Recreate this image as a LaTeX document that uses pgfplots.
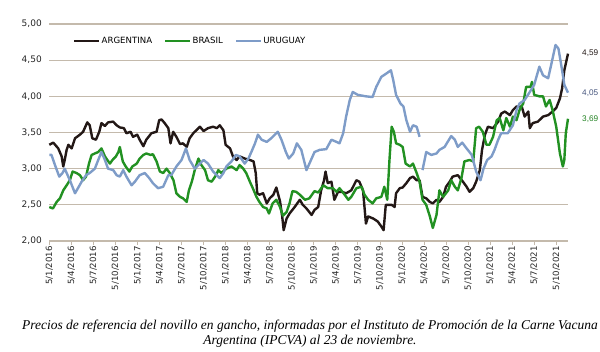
\documentclass[border=0pt]{standalone}
\usepackage{pgfplots}
\pgfplotsset{compat=1.18}
\usepackage{fontspec}
\setmainfont{DejaVu Sans}
\newfontfamily\capfont{Liberation Serif}
\newfontfamily\endfont{Liberation Sans}
\definecolor{argc}{RGB}{35,24,22}
\definecolor{brac}{RGB}{34,145,34}
\definecolor{uruc}{RGB}{126,156,200}
\definecolor{gridc}{RGB}{196,186,172}
\definecolor{lab405}{RGB}{70,85,125}
\definecolor{lab369}{RGB}{34,130,34}
\begin{document}
\begin{tikzpicture}
\path[use as bounding box] (-49.3pt,-111pt) rectangle (550.7pt,241pt);
\begin{axis}[
  at={(0pt,0pt)}, anchor=south west,
  scale only axis, width=518.7pt, height=217pt,
  xmin=0, xmax=70.6, ymin=2, ymax=5,
  clip=false,
  unbounded coords=jump,
  axis lines=left,
  axis line style={-},
  y axis line style={draw=none},
  x axis line style={draw=gridc, line width=1pt},
  ytick={2,2.5,...,5},
  ytick style={draw=none},
  xtick={0,3,...,69},
  xticklabels={5/1/2016,5/4/2016,5/7/2016,5/10/2016,5/1/2017,5/4/2017,5/7/2017,5/10/2017,5/1/2018,5/4/2018,5/7/2018,5/10/2018,5/1/2019,5/4/2019,5/7/2019,5/10/2019,5/1/2020,5/4/2020,5/7/2020,5/10/2020,5/1/2021,5/4/2021,5/7/2021,5/10/2021},
  xtick style={draw=gridc, line width=0.8pt},
  tick align=outside, major tick length=4pt,
  xticklabel style={rotate=90, anchor=east, font=\fontsize{8.6}{10}\selectfont, text=black!85, inner sep=1pt},
  yticklabel style={font=\fontsize{9}{10}\selectfont, text=black!85},
  /pgf/number format/.cd, fixed, fixed zerofill, precision=2, use comma, assume math mode=true,
  /pgfplots/.cd,
  ymajorgrids, grid style={gridc, line width=1.1pt},
  legend style={at={(rel axis cs:0.0457,0.9217)}, anchor=west, draw=none, fill=none, inner sep=0pt,
    font=\fontsize{8.6}{10}\selectfont, nodes={inner xsep=1pt, inner ysep=1pt},
    /tikz/every even column/.append style={column sep=11pt}},
  legend columns=3,
  legend image code/.code={\draw[#1, line width=2.5pt] (0pt,0pt) -- (25pt,0pt);},
  every axis plot/.append style={line width=2.4pt, line join=round},
]
\addplot[argc] table {
0 3.33
0.54 3.36
1.22 3.28
1.68 3.17
1.9 3.03
2.1 3.12
2.36 3.26
2.6 3.33
3.04 3.28
3.5 3.42
4.17 3.47
4.6 3.51
5.17 3.64
5.5 3.60
5.85 3.42
6.35 3.40
6.8 3.51
7.1 3.63
7.57 3.59
8.0 3.64
8.7 3.65
9.16 3.60
9.6 3.57
10.15 3.56
10.5 3.49
11.06 3.51
11.4 3.44
11.97 3.47
12.3 3.40
12.8 3.31
13.2 3.40
13.9 3.49
14.6 3.51
14.96 3.67
15.28 3.68
15.7 3.63
16.2 3.56
16.5 3.35
16.86 3.51
17.3 3.44
17.8 3.34
18.2 3.35
18.7 3.30
19.1 3.42
19.6 3.49
20.0 3.53
20.5 3.58
21.0 3.52
21.6 3.56
22.3 3.58
22.8 3.56
23.2 3.60
23.7 3.53
24.0 3.33
24.6 3.28
25.0 3.17
25.5 3.12
25.9 3.17
26.6 3.14
27.3 3.12
27.8 3.10
28.1 2.94
28.3 2.66
28.6 2.64
29.1 2.66
29.6 2.52
30.0 2.59
30.5 2.64
30.9 2.74
31.4 2.55
31.7 2.34
31.9 2.15
32.3 2.31
32.7 2.38
33.4 2.47
34.1 2.57
34.5 2.50
35.0 2.45
35.7 2.36
36.1 2.43
36.6 2.47
37.0 2.70
37.4 2.84
37.6 2.96
37.9 2.80
38.4 2.82
38.8 2.57
39.3 2.68
39.8 2.68
40.4 2.66
41.1 2.70
41.8 2.84
42.2 2.82
42.7 2.70
43.1 2.24
43.4 2.34
44.1 2.31
44.7 2.27
45.2 2.20
45.5 2.15
45.8 2.50
46.6 2.50
47.0 2.47
47.2 2.66
47.7 2.73
48.1 2.74
48.6 2.80
49.1 2.87
49.5 2.89
50.0 2.84
50.4 2.84
50.8 2.61
51.3 2.59
51.8 2.54
52.2 2.52
52.7 2.57
53.1 2.54
53.6 2.61
54.0 2.75
54.5 2.82
54.9 2.89
55.6 2.91
56.3 2.82
56.8 2.75
57.2 2.68
57.7 2.73
58.1 2.82
58.6 2.98
58.9 3.26
59.3 3.47
59.7 3.58
60.4 3.56
61.1 3.65
61.5 3.76
62.0 3.79
62.7 3.74
63.1 3.81
63.6 3.86
64.3 3.86
64.7 3.72
65.2 3.79
65.4 3.56
65.8 3.63
66.5 3.65
67.2 3.72
67.9 3.74
68.5 3.79
69.0 3.84
69.5 3.97
69.8 4.11
70.1 4.36
70.6 4.59
};
\addlegendentry{ARGENTINA}
\addplot[brac] table {
0 2.47
0.5 2.45
1.0 2.54
1.45 2.59
1.9 2.70
2.36 2.77
2.8 2.84
3.17 2.96
3.7 2.94
4.17 2.91
4.6 2.84
5.0 2.89
5.4 3.07
5.76 3.19
6.2 3.21
6.66 3.23
7.1 3.28
7.57 3.17
7.9 3.12
8.25 3.07
8.6 3.12
9.07 3.17
9.4 3.23
9.6 3.30
10.0 3.10
10.4 3.03
10.9 2.96
11.3 3.03
11.9 3.07
12.3 3.14
12.8 3.19
13.2 3.21
13.8 3.19
14.1 3.20
14.6 3.10
15.05 2.96
15.5 2.94
15.96 3.00
16.4 2.94
16.9 2.84
17.3 2.66
17.8 2.61
18.2 2.59
18.7 2.54
19.0 2.70
19.4 2.82
19.8 2.98
20.3 3.14
20.7 3.05
21.2 2.98
21.6 2.84
22.1 2.82
22.7 2.91
23.0 2.98
23.4 2.94
24.1 3.00
24.8 3.03
25.5 2.98
25.9 3.05
26.4 3.00
26.8 2.94
27.3 2.82
27.7 2.73
28.2 2.61
28.6 2.54
29.1 2.47
29.6 2.45
29.9 2.38
30.4 2.52
30.9 2.57
31.4 2.47
31.8 2.35
32.3 2.40
32.7 2.52
33.1 2.69
33.6 2.68
34.1 2.64
34.8 2.57
35.4 2.59
36.1 2.69
36.6 2.67
37.3 2.77
37.9 2.73
38.6 2.73
39.1 2.68
39.5 2.73
40.2 2.64
40.7 2.57
41.1 2.61
41.8 2.73
42.5 2.75
42.9 2.64
43.4 2.57
44.0 2.52
44.5 2.59
45.2 2.61
45.6 2.75
46.0 2.57
46.3 3.12
46.6 3.58
46.9 3.51
47.2 3.35
47.7 3.33
48.1 3.30
48.5 3.07
49.1 3.03
49.5 3.07
50.0 2.94
50.4 2.82
50.8 2.57
51.3 2.50
51.8 2.34
52.2 2.18
52.7 2.36
53.1 2.70
53.6 2.61
54.3 2.70
54.7 2.84
55.2 2.75
55.6 2.70
56.1 2.87
56.5 3.10
57.2 3.12
57.7 3.10
58.1 3.56
58.5 3.58
59.0 3.51
59.5 3.33
59.9 3.33
60.4 3.44
60.9 3.67
61.3 3.70
61.8 3.53
62.2 3.70
62.7 3.58
63.1 3.72
63.6 3.67
64.0 3.81
64.5 3.90
64.9 4.13
65.5 4.13
65.7 4.20
66.0 4.02
66.7 4.00
67.2 4.00
67.6 3.86
68.1 3.95
68.5 3.81
69.0 3.58
69.5 3.21
69.9 3.03
70.1 3.12
70.3 3.49
70.6 3.69
};
\addlegendentry{BRASIL}
\addplot[uruc] table {
0 3.19
0.3 3.19
0.77 3.05
1.36 2.89
1.8 2.94
2.1 3.00
2.8 2.84
3.5 2.66
3.9 2.73
4.4 2.82
5.0 2.91
5.5 2.94
6.2 3.00
6.66 3.12
7.1 3.23
7.57 3.12
8.0 3.00
8.7 2.98
9.16 2.91
9.6 2.89
10.06 2.98
10.5 2.89
11.2 2.77
11.65 2.82
12.3 2.91
13.0 2.94
13.6 2.87
14.1 2.80
14.8 2.73
15.5 2.75
16.2 2.91
16.6 2.91
17.3 3.03
18.0 3.12
18.6 3.28
19.1 3.12
19.8 3.00
20.5 3.07
21.0 3.12
21.6 3.07
22.3 2.96
23.2 2.87
23.7 2.94
24.1 3.03
24.8 3.10
25.4 3.19
25.9 3.17
26.6 3.07
27.1 3.14
27.5 3.23
28.0 3.35
28.4 3.47
28.9 3.40
29.6 3.37
30.2 3.42
31.1 3.51
31.6 3.40
32.2 3.23
32.6 3.14
33.2 3.21
33.7 3.35
34.3 3.26
35.0 2.98
35.4 3.07
36.1 3.23
36.8 3.26
37.7 3.27
38.4 3.40
39.1 3.37
39.5 3.35
40.0 3.49
40.4 3.72
40.9 3.95
41.3 4.06
42.0 4.02
43.1 4.00
44.0 3.99
44.5 4.13
45.2 4.27
45.8 4.31
46.5 4.36
46.8 4.23
47.2 4.02
47.8 3.90
48.2 3.86
48.6 3.67
49.1 3.51
49.5 3.60
50.0 3.58
50.4 3.44
50.6 nan
50.8 2.98
51.3 3.23
52.0 3.19
52.7 3.21
53.1 3.26
53.8 3.30
54.7 3.45
55.2 3.40
55.6 3.30
56.2 3.36
56.8 3.28
57.5 3.19
58.1 2.96
58.7 2.84
59.1 3.00
59.6 3.12
60.2 3.17
60.6 3.26
61.1 3.40
61.5 3.49
62.4 3.49
63.1 3.60
63.6 3.81
64.0 3.90
64.7 3.95
65.4 4.06
66.0 4.16
66.7 4.41
67.2 4.29
67.9 4.25
68.3 4.43
68.9 4.71
69.3 4.66
69.8 4.36
70.1 4.16
70.6 4.05
};
\addlegendentry{URUGUAY}
\node[anchor=west, font=\endfont\fontsize{8.2}{10}\selectfont, text=argc, xshift=13pt, inner sep=1pt] at (axis cs:70.6,4.60) {4,59};
\node[anchor=west, font=\endfont\fontsize{8.2}{10}\selectfont, text=lab405, xshift=13pt, inner sep=1pt] at (axis cs:70.6,4.05) {4,05};
\node[anchor=west, font=\endfont\fontsize{8.2}{10}\selectfont, text=lab369, xshift=13pt, inner sep=1pt] at (axis cs:70.6,3.69) {3,69};
\end{axis}
\node[align=center, font=\capfont\itshape\fontsize{13.5}{15}\selectfont, inner sep=0pt] at (260.7pt,-92.5pt)
  {Precios de referencia del novillo en gancho, informadas por el Instituto de Promoción de la Carne Vacuna\\ Argentina (IPCVA) al 23 de noviembre.};
\end{tikzpicture}
\end{document}
